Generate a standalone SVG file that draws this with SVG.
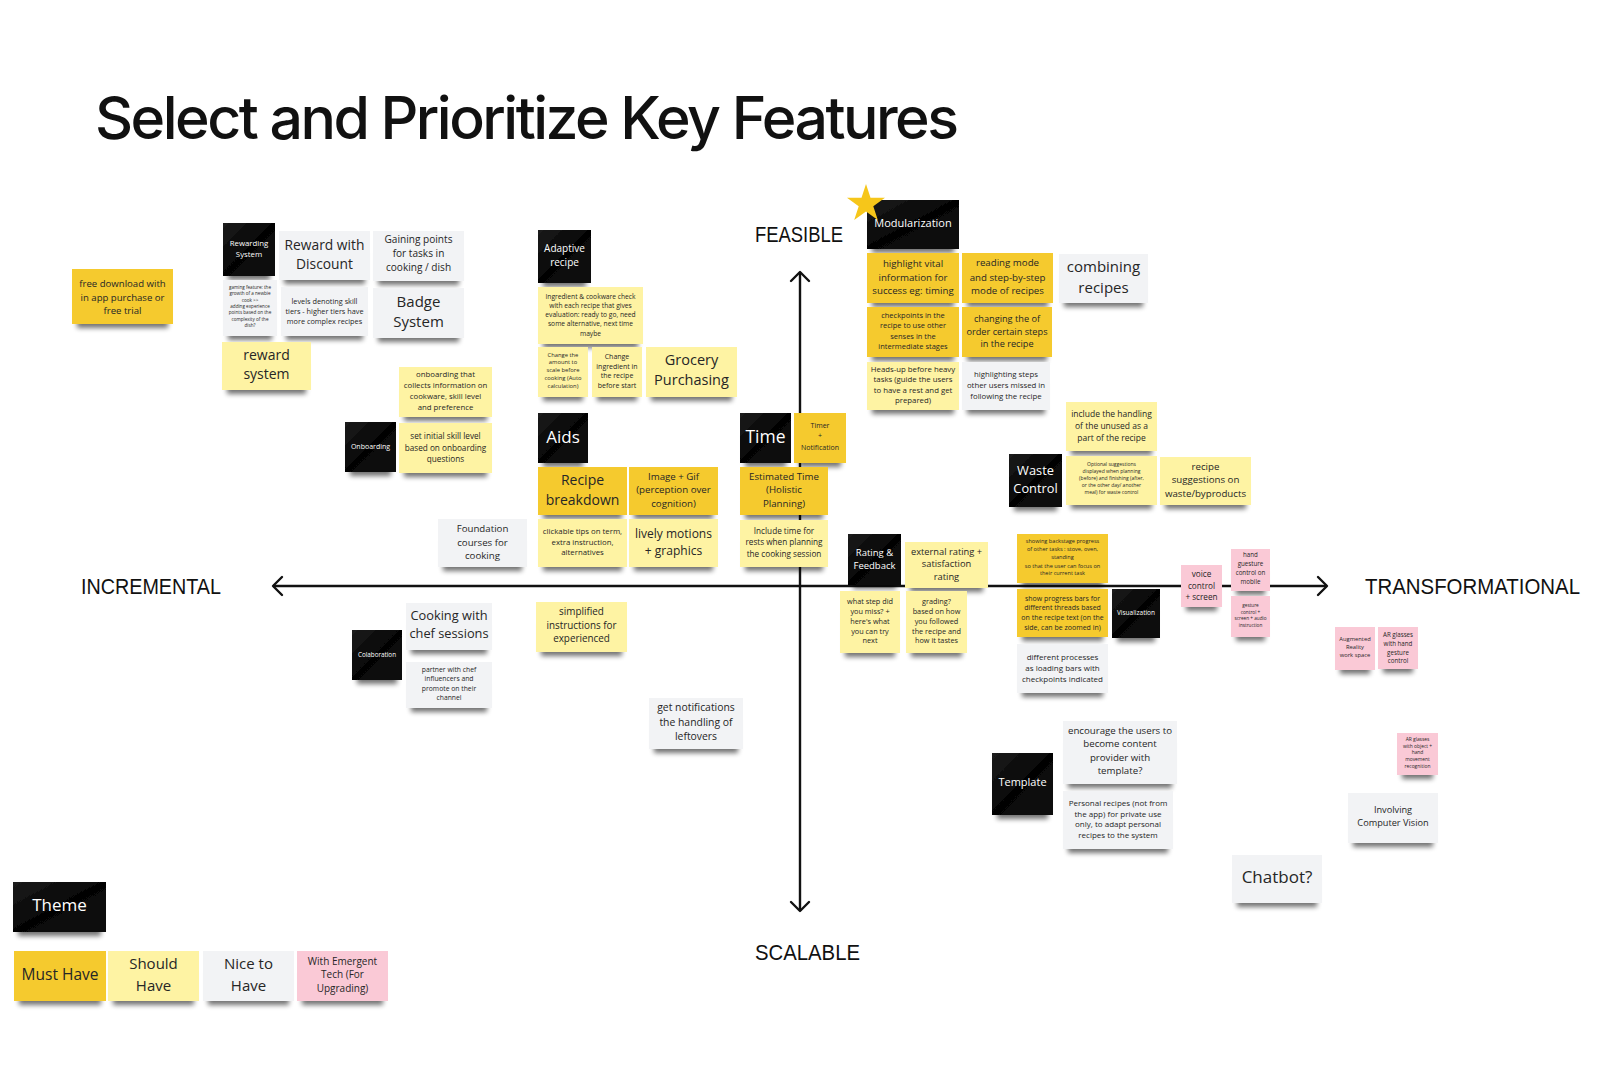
<svg xmlns="http://www.w3.org/2000/svg" width="1600" height="1090" viewBox="0 0 1600 1090">
<defs>
<linearGradient id="blk" x1="0" y1="0" x2="1" y2="1"><stop offset="0" stop-color="#1c1c1c"/><stop offset="0.5" stop-color="#050505"/><stop offset="1" stop-color="#111"/></linearGradient>
<filter id="sh" x="-10%" y="-10%" width="120%" height="150%">
<feMorphology in="SourceAlpha" operator="erode" radius="5 8" result="e"/>
<feOffset in="e" dy="12" result="o"/>
<feGaussianBlur in="o" stdDeviation="2.6" result="b"/>
<feComponentTransfer in="b" result="s"><feFuncA type="linear" slope="0.55"/></feComponentTransfer>
<feMerge><feMergeNode in="s"/><feMergeNode in="SourceGraphic"/></feMerge>
</filter>
<marker id="ah" viewBox="-12 -12 14 24" refX="0" refY="0" markerWidth="14" markerHeight="24" markerUnits="userSpaceOnUse" orient="auto-start-reverse"><path d="M-9,-9 L0,0 L-9,9" fill="none" stroke="#111" stroke-width="2.4" stroke-linecap="round" stroke-linejoin="round"/></marker>
</defs>
<style>
rect{filter:url(#sh)}
.m{fill:#F5CA2E}
.s{fill:#FEF3A3}
.c{fill:#F2F3F5}
.p{fill:#FAC9D6}
.b{fill:url(#blk)}
.t{font-family:"Open Sans","Liberation Sans",sans-serif;fill:#262626;text-anchor:middle;dominant-baseline:central}
.w{fill:#fff}
.ax{font-family:"Liberation Sans",Arial,sans-serif;fill:#111;font-size:22px}
.axis{stroke:#111;stroke-width:2.4;fill:none;marker-start:url(#ah);marker-end:url(#ah)}
</style>
<rect x="0" y="0" width="1600" height="1090" fill="#fff" style="filter:none"/>
<text x="95" y="139" font-family="Inter, Liberation Sans, sans-serif" font-weight="500" font-size="59" fill="#111" textLength="864" lengthAdjust="spacing">Select and Prioritize Key Features</text>

<g id="connectors">
<line class="axis" x1="273" y1="586" x2="1327" y2="586"/>
<line class="axis" x1="800" y1="272" x2="800" y2="911"/>
</g>
<text class="ax" x="755" y="242" textLength="88" lengthAdjust="spacingAndGlyphs">FEASIBLE</text>
<text class="ax" x="81" y="594" textLength="140" lengthAdjust="spacingAndGlyphs">INCREMENTAL</text>
<text class="ax" x="1365" y="594" textLength="215" lengthAdjust="spacingAndGlyphs">TRANSFORMATIONAL</text>
<text class="ax" x="755" y="960" textLength="105" lengthAdjust="spacingAndGlyphs">SCALABLE</text>

<g id="n-free-download"><rect class="m" x="72" y="269" width="101" height="55"/><text class="t" font-size="9.6"><tspan x="122.5" y="283.2">free download with</tspan><tspan x="122.5" y="296.5">in app purchase or</tspan><tspan x="122.5" y="309.8">free trial</tspan></text></g>

<g id="n-rewarding-system"><rect class="b" x="223" y="223" width="52" height="53"/><text class="t w" font-size="7.8"><tspan x="249" y="243">Rewarding</tspan><tspan x="249" y="253.7">System</tspan></text></g>
<g id="n-reward-discount"><rect class="c" x="279" y="231" width="91" height="49"/><text class="t" font-size="13.8"><tspan x="324.5" y="243.5">Reward with</tspan><tspan x="324.5" y="262.5">Discount</tspan></text></g>
<g id="n-gaining-points"><rect class="c" x="373" y="231" width="91" height="50"/><text class="t" font-size="10.1"><tspan x="418.5" y="239.3">Gaining points</tspan><tspan x="418.5" y="253.3">for tasks in</tspan><tspan x="418.5" y="267.3">cooking / dish</tspan></text></g>
<g id="n-gaming-feature"><rect class="c" x="223" y="280" width="54" height="56"/><text class="t" font-size="4.6"><tspan x="250" y="286.7">gaming feature: the</tspan><tspan x="250" y="293.1">growth of a newbie</tspan><tspan x="250" y="299.5">cook &gt;&gt;</tspan><tspan x="250" y="305.9">adding experience</tspan><tspan x="250" y="312.3">points based on the</tspan><tspan x="250" y="318.7">complexity of the</tspan><tspan x="250" y="325.1">dish?</tspan></text></g>
<g id="n-levels"><rect class="c" x="281" y="287" width="87" height="49"/><text class="t" font-size="7.3"><tspan x="324.5" y="300.7">levels denoting skill</tspan><tspan x="324.5" y="310.7">tiers - higher tiers have</tspan><tspan x="324.5" y="320.7">more complex recipes</tspan></text></g>
<g id="n-badge"><rect class="c" x="373" y="288" width="91" height="50"/><text class="t" font-size="15"><tspan x="418.5" y="300.7">Badge</tspan><tspan x="418.5" y="321.3">System</tspan></text></g>
<g id="n-reward-system"><rect class="s" x="222" y="342" width="89" height="48"/><text class="t" font-size="14"><tspan x="266.5" y="354">reward</tspan><tspan x="266.5" y="373.3">system</tspan></text></g>

<g id="n-onboarding-collects"><rect class="s" x="399" y="367" width="93" height="50"/><text class="t" font-size="7.8"><tspan x="445.5" y="374">onboarding that</tspan><tspan x="445.5" y="385">collects information on</tspan><tspan x="445.5" y="395.7">cookware, skill level</tspan><tspan x="445.5" y="406.7">and preference</tspan></text></g>
<g id="n-onboarding"><rect class="b" x="345" y="422" width="51" height="50"/><text class="t w" font-size="7" x="370.5" y="446.7">Onboarding</text></g>
<g id="n-set-initial"><rect class="s" x="399" y="423" width="93" height="50"/><text class="t" font-size="8.2"><tspan x="445.5" y="435">set initial skill level</tspan><tspan x="445.5" y="446.7">based on onboarding</tspan><tspan x="445.5" y="458">questions</tspan></text></g>

<g id="n-adaptive"><rect class="b" x="538" y="230" width="53" height="53"/><text class="t w" font-size="10"><tspan x="564.5" y="248.3">Adaptive</tspan><tspan x="564.5" y="261.7">recipe</tspan></text></g>
<g id="n-ingredient"><rect class="s" x="538" y="287" width="105" height="57"/><text class="t" font-size="6.7"><tspan x="590.5" y="295.7">Ingredient &amp; cookware check</tspan><tspan x="590.5" y="304.7">with each recipe that gives</tspan><tspan x="590.5" y="314">evaluation: ready to go, need</tspan><tspan x="590.5" y="323.3">some alternative, next time</tspan><tspan x="590.5" y="332.7">maybe</tspan></text></g>
<g id="n-change-amount"><rect class="s" x="538" y="347" width="50" height="50"/><text class="t" font-size="5.8"><tspan x="563" y="354.7">Change the</tspan><tspan x="563" y="362.3">amount to</tspan><tspan x="563" y="370">scale before</tspan><tspan x="563" y="378.3">cooking (Auto</tspan><tspan x="563" y="386">calculation)</tspan></text></g>
<g id="n-change-ingredient"><rect class="s" x="592" y="347" width="50" height="50"/><text class="t" font-size="7"><tspan x="617" y="355.7">Change</tspan><tspan x="617" y="365.7">ingredient in</tspan><tspan x="617" y="375.3">the recipe</tspan><tspan x="617" y="384.7">before start</tspan></text></g>
<g id="n-grocery"><rect class="s" x="646" y="347" width="91" height="50"/><text class="t" font-size="14.5"><tspan x="691.5" y="359.3">Grocery</tspan><tspan x="691.5" y="379.3">Purchasing</tspan></text></g>

<g id="n-aids"><rect class="b" x="538" y="413" width="50" height="50"/><text class="t w" font-size="17" x="563" y="436">Aids</text></g>
<g id="n-recipe-breakdown"><rect class="m" x="538" y="467" width="89" height="48"/><text class="t" font-size="14"><tspan x="582.5" y="479.3">Recipe</tspan><tspan x="582.5" y="498.7">breakdown</tspan></text></g>
<g id="n-image-gif"><rect class="m" x="629" y="467" width="89" height="48"/><text class="t" font-size="9.7"><tspan x="673.5" y="476">Image + Gif</tspan><tspan x="673.5" y="489.3">(perception over</tspan><tspan x="673.5" y="502.7">cognition)</tspan></text></g>
<g id="n-foundation"><rect class="c" x="438" y="519" width="89" height="48"/><text class="t" font-size="9.7"><tspan x="482.5" y="528.3">Foundation</tspan><tspan x="482.5" y="541.7">courses for</tspan><tspan x="482.5" y="555">cooking</tspan></text></g>
<g id="n-clickable"><rect class="s" x="538" y="519" width="89" height="48"/><text class="t" font-size="7.8"><tspan x="582.5" y="531">clickable tips on term,</tspan><tspan x="582.5" y="541.7">extra instruction,</tspan><tspan x="582.5" y="552.3">alternatives</tspan></text></g>
<g id="n-lively"><rect class="s" x="629" y="519" width="89" height="48"/><text class="t" font-size="12"><tspan x="673.5" y="533.3">lively motions</tspan><tspan x="673.5" y="550">+ graphics</tspan></text></g>

<g id="n-modularization"><rect class="b" x="867" y="200" width="92" height="49"/><text class="t w" font-size="11" x="913" y="222.7">Modularization</text><polygon points="866,184 870.5,197.8 885,197.8 873.3,206.3 877.8,220.1 866,211.6 854.2,220.1 858.7,206.3 847,197.8 861.5,197.8" fill="#F6C61A" style="filter:none"/></g>
<g id="n-highlight-vital"><rect class="m" x="867" y="253" width="92" height="50"/><text class="t" font-size="9.7"><tspan x="913" y="263.3">highlight vital</tspan><tspan x="913" y="276.7">information for</tspan><tspan x="913" y="290">success eg: timing</tspan></text></g>
<g id="n-reading-mode"><rect class="m" x="962" y="253" width="91" height="50"/><text class="t" font-size="9.7"><tspan x="1007.5" y="262.3">reading mode</tspan><tspan x="1007.5" y="276.7">and step-by-step</tspan><tspan x="1007.5" y="290">mode of recipes</tspan></text></g>
<g id="n-combining"><rect class="c" x="1059" y="254" width="89" height="49"/><text class="t" font-size="15"><tspan x="1103.5" y="266">combining</tspan><tspan x="1103.5" y="286.7">recipes</tspan></text></g>
<g id="n-checkpoints"><rect class="m" x="867" y="307" width="92" height="50"/><text class="t" font-size="7.5"><tspan x="913" y="315">checkpoints in the</tspan><tspan x="913" y="325.3">recipe to use other</tspan><tspan x="913" y="335.7">senses in the</tspan><tspan x="913" y="346">intermediate stages</tspan></text></g>
<g id="n-changing-order"><rect class="m" x="962" y="307" width="90" height="50"/><text class="t" font-size="9.2"><tspan x="1007" y="317.7">changing the of</tspan><tspan x="1007" y="331">order certain steps</tspan><tspan x="1007" y="343.3">in the recipe</tspan></text></g>
<g id="n-heads-up"><rect class="s" x="867" y="362" width="92" height="48"/><text class="t" font-size="7.8"><tspan x="913" y="369">Heads-up before heavy</tspan><tspan x="913" y="379.3">tasks (guide the users</tspan><tspan x="913" y="390">to have a rest and get</tspan><tspan x="913" y="400">prepared)</tspan></text></g>
<g id="n-highlighting-steps"><rect class="c" x="962" y="362" width="88" height="48"/><text class="t" font-size="7.8"><tspan x="1006" y="374">highlighting steps</tspan><tspan x="1006" y="384.7">other users missed in</tspan><tspan x="1006" y="395.7">following the recipe</tspan></text></g>

<g id="n-include-handling"><rect class="s" x="1066" y="402" width="91" height="49"/><text class="t" font-size="8.5"><tspan x="1111.5" y="413.3">include the handling</tspan><tspan x="1111.5" y="425">of the unused as a</tspan><tspan x="1111.5" y="436.7">part of the recipe</tspan></text></g>
<g id="n-waste-control"><rect class="b" x="1009" y="454" width="53" height="53"/><text class="t w" font-size="12.8"><tspan x="1035.5" y="470">Waste</tspan><tspan x="1035.5" y="487.7">Control</tspan></text></g>
<g id="n-optional"><rect class="s" x="1066" y="456" width="91" height="49"/><text class="t" font-size="5"><tspan x="1111.5" y="464">Optional suggestions</tspan><tspan x="1111.5" y="471">displayed when planning</tspan><tspan x="1111.5" y="478">(before) and finishing (after,</tspan><tspan x="1111.5" y="485">or the other day/ another</tspan><tspan x="1111.5" y="492">meal) for waste control</tspan></text></g>
<g id="n-recipe-suggestions"><rect class="s" x="1160" y="457" width="91" height="48"/><text class="t" font-size="9.7"><tspan x="1205.5" y="466">recipe</tspan><tspan x="1205.5" y="479.3">suggestions on</tspan><tspan x="1205.5" y="492.7">waste/byproducts</tspan></text></g>

<g id="n-time"><rect class="b" x="740" y="413" width="51" height="50"/><text class="t w" font-size="17.5" x="765.5" y="435.5">Time</text></g>
<g id="n-timer"><rect class="m" x="794" y="413" width="52" height="50"/><text class="t" font-size="7"><tspan x="820" y="425">Timer</tspan><tspan x="820" y="435">+</tspan><tspan x="820" y="446.7">Notification</tspan></text></g>
<g id="n-estimated"><rect class="m" x="740" y="467" width="88" height="48"/><text class="t" font-size="9.7"><tspan x="784" y="476">Estimated Time</tspan><tspan x="784" y="489.3">(Holistic</tspan><tspan x="784" y="502.7">Planning)</tspan></text></g>
<g id="n-include-time"><rect class="s" x="740" y="520" width="88" height="47"/><text class="t" font-size="8.2"><tspan x="784" y="530">Include time for</tspan><tspan x="784" y="541.3">rests when planning</tspan><tspan x="784" y="553.3">the cooking session</tspan></text></g>

<g id="n-cooking-chef"><rect class="c" x="406" y="603" width="86" height="47"/><text class="t" font-size="12.8"><tspan x="449" y="615">Cooking with</tspan><tspan x="449" y="633.3">chef sessions</tspan></text></g>
<g id="n-partner"><rect class="c" x="406" y="662" width="86" height="46"/><text class="t" font-size="6.8"><tspan x="449" y="669">partner with chef</tspan><tspan x="449" y="678.3">influencers and</tspan><tspan x="449" y="687.7">promote on their</tspan><tspan x="449" y="697.3">channel</tspan></text></g>
<g id="n-colaboration"><rect class="b" x="352" y="630" width="50" height="50"/><text class="t w" font-size="6.3" x="377" y="654.3">Colaboration</text></g>
<g id="n-simplified"><rect class="s" x="536" y="602" width="91" height="50"/><text class="t" font-size="9.9"><tspan x="581.5" y="611">simplified</tspan><tspan x="581.5" y="625">instructions for</tspan><tspan x="581.5" y="638.3">experienced</tspan></text></g>
<g id="n-get-notifications"><rect class="c" x="649" y="698" width="94" height="51"/><text class="t" font-size="10.4"><tspan x="696" y="707.3">get notifications</tspan><tspan x="696" y="721.7">the handling of</tspan><tspan x="696" y="736">leftovers</tspan></text></g>

<g id="n-rating"><rect class="b" x="848" y="534" width="53" height="51"/><text class="t w" font-size="9.5"><tspan x="874.5" y="552.3">Rating &amp;</tspan><tspan x="874.5" y="565">Feedback</tspan></text></g>
<g id="n-external-rating"><rect class="s" x="905" y="542" width="83" height="46"/><text class="t" font-size="9.3"><tspan x="946.5" y="550.7">external rating +</tspan><tspan x="946.5" y="563.3">satisfaction</tspan><tspan x="946.5" y="576">rating</tspan></text></g>
<g id="n-what-step"><rect class="s" x="840" y="591" width="60" height="62"/><text class="t" font-size="7.3"><tspan x="870" y="601">what step did</tspan><tspan x="870" y="611">you miss? +</tspan><tspan x="870" y="621">here's what</tspan><tspan x="870" y="631">you can try</tspan><tspan x="870" y="640.3">next</tspan></text></g>
<g id="n-grading"><rect class="s" x="906" y="591" width="61" height="62"/><text class="t" font-size="7.3"><tspan x="936.5" y="601">grading?</tspan><tspan x="936.5" y="611">based on how</tspan><tspan x="936.5" y="621">you followed</tspan><tspan x="936.5" y="631">the recipe and</tspan><tspan x="936.5" y="640.3">how it tastes</tspan></text></g>

<g id="n-showing-backstage"><rect class="m" x="1017" y="534" width="91" height="49"/><text class="t" font-size="5.6"><tspan x="1062.5" y="540.7">showing backstage progress</tspan><tspan x="1062.5" y="548.7">of other tasks : stove, oven,</tspan><tspan x="1062.5" y="557.3">standing</tspan><tspan x="1062.5" y="565.7">so that the user can focus on</tspan><tspan x="1062.5" y="573.3">their current task</tspan></text></g>
<g id="n-progress-bars"><rect class="m" x="1017" y="589" width="91" height="48"/><text class="t" font-size="7"><tspan x="1062.5" y="597.7">show progress bars for</tspan><tspan x="1062.5" y="607.3">different threads based</tspan><tspan x="1062.5" y="616.7">on the recipe text (on the</tspan><tspan x="1062.5" y="626.7">side, can be zoomed in)</tspan></text></g>
<g id="n-visualization"><rect class="b" x="1112" y="589" width="48" height="49"/><text class="t w" font-size="6.5" x="1136" y="612.3">Visualization</text></g>
<g id="n-different-processes"><rect class="c" x="1017" y="644" width="91" height="49"/><text class="t" font-size="8"><tspan x="1062.5" y="656">different processes</tspan><tspan x="1062.5" y="667">as loading bars with</tspan><tspan x="1062.5" y="678">checkpoints indicated</tspan></text></g>

<g id="n-voice-control"><rect class="p" x="1181" y="565" width="41" height="42"/><text class="t" font-size="8.2"><tspan x="1201.5" y="573.3">voice</tspan><tspan x="1201.5" y="585">control</tspan><tspan x="1201.5" y="596">+ screen</tspan></text></g>
<g id="n-hand-guesture"><rect class="p" x="1231" y="549" width="39" height="42"/><text class="t" font-size="6.2"><tspan x="1250.5" y="554.3">hand</tspan><tspan x="1250.5" y="563.3">guesture</tspan><tspan x="1250.5" y="571.7">control on</tspan><tspan x="1250.5" y="580.7">mobile</tspan></text></g>
<g id="n-gesture-screen"><rect class="p" x="1231" y="596" width="39" height="41"/><text class="t" font-size="4.7"><tspan x="1250.5" y="605">gesture</tspan><tspan x="1250.5" y="611.7">control +</tspan><tspan x="1250.5" y="618.3">screen + audio</tspan><tspan x="1250.5" y="625">instruction</tspan></text></g>

<g id="n-augmented"><rect class="p" x="1335" y="627" width="40" height="43"/><text class="t" font-size="5.8"><tspan x="1355" y="639">Augmented</tspan><tspan x="1355" y="647">Reality</tspan><tspan x="1355" y="655.3">work space</tspan></text></g>
<g id="n-ar-hand"><rect class="p" x="1378" y="627" width="40" height="42"/><text class="t" font-size="6.2"><tspan x="1398" y="634.3">AR glasses</tspan><tspan x="1398" y="642.7">with hand</tspan><tspan x="1398" y="651.7">gesture</tspan><tspan x="1398" y="660">control</tspan></text></g>
<g id="n-ar-object"><rect class="p" x="1397" y="733" width="41" height="42"/><text class="t" font-size="4.9"><tspan x="1417.5" y="739">AR glasses</tspan><tspan x="1417.5" y="745.7">with object +</tspan><tspan x="1417.5" y="752.3">hand</tspan><tspan x="1417.5" y="759">movement</tspan><tspan x="1417.5" y="765.7">recognition</tspan></text></g>
<g id="n-computer-vision"><rect class="c" x="1348" y="793" width="90" height="50"/><text class="t" font-size="9.2"><tspan x="1393" y="809.3">Involving</tspan><tspan x="1393" y="822">Computer Vision</tspan></text></g>
<g id="n-chatbot"><rect class="c" x="1232" y="855" width="90" height="48"/><text class="t" font-size="17" x="1277" y="876.7">Chatbot?</text></g>

<g id="n-template"><rect class="b" x="992" y="753" width="61" height="62"/><text class="t w" font-size="11" x="1022.5" y="781.7">Template</text></g>
<g id="n-encourage"><rect class="c" x="1063" y="721" width="114" height="63"/><text class="t" font-size="9.7"><tspan x="1120" y="730">encourage the users to</tspan><tspan x="1120" y="743.3">become content</tspan><tspan x="1120" y="756.7">provider with</tspan><tspan x="1120" y="770">template?</tspan></text></g>
<g id="n-personal"><rect class="c" x="1063" y="791" width="110" height="58"/><text class="t" font-size="8"><tspan x="1118" y="801.7">Personal recipes (not from</tspan><tspan x="1118" y="812.7">the app) for private use</tspan><tspan x="1118" y="823.3">only, to adapt personal</tspan><tspan x="1118" y="834.3">recipes to the system</tspan></text></g>

<g id="legend-theme"><rect class="b" x="13" y="882" width="93" height="50"/><text class="t w" font-size="17" x="59.5" y="904">Theme</text></g>
<g id="legend-must"><rect class="m" x="14" y="951" width="92" height="50"/><text class="t" font-size="15.5" x="60" y="974">Must Have</text></g>
<g id="legend-should"><rect class="s" x="108" y="951" width="91" height="50"/><text class="t" font-size="15"><tspan x="153.5" y="963.3">Should</tspan><tspan x="153.5" y="985">Have</tspan></text></g>
<g id="legend-nice"><rect class="c" x="203" y="951" width="91" height="50"/><text class="t" font-size="15"><tspan x="248.5" y="963.3">Nice to</tspan><tspan x="248.5" y="985">Have</tspan></text></g>
<g id="legend-emergent"><rect class="p" x="297" y="951" width="91" height="50"/><text class="t" font-size="10"><tspan x="342.5" y="960.7">With Emergent</tspan><tspan x="342.5" y="974">Tech (For</tspan><tspan x="342.5" y="988.3">Upgrading)</tspan></text></g>
</svg>
